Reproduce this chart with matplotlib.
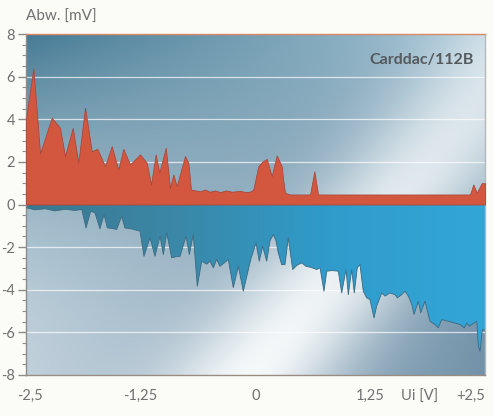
import numpy as np
import matplotlib
matplotlib.use("Agg")
import matplotlib.pyplot as plt
import matplotlib.transforms as mtransforms
from matplotlib.colors import to_rgb, LinearSegmentedColormap
from matplotlib.ticker import MultipleLocator

# Linearity deviation of the converter, positive and negative branches
ui_pos = [-2.500, -2.420, -2.347, -2.220, -2.130, -2.075, -1.991, -1.930, -1.857,
          -1.784, -1.723, -1.639, -1.566, -1.495, -1.440, -1.367, -1.258, -1.185,
          -1.138, -1.087, -1.048, -0.978, -0.931, -0.895, -0.858, -0.768, -0.732,
          -0.703, -0.605, -0.550, -0.496, -0.441, -0.387, -0.321, -0.256, -0.169,
          -0.103, -0.060, -0.024, 0.031, 0.071, 0.122, 0.176, 0.231, 0.285, 0.300,
          0.321, 0.376, 0.594, 0.641, 0.681, 2.337, 2.373, 2.410, 2.464, 2.500]
dev_pos = [4.0, 6.4, 2.4, 4.07, 3.6, 2.27, 3.6, 1.96, 4.54,
           2.5, 2.61, 1.8, 2.74, 1.64, 2.61, 1.88, 2.35, 1.96,
           0.94, 2.35, 1.49, 2.66, 0.78, 1.41, 0.86, 2.27, 1.96,
           0.7, 0.62, 0.7, 0.6, 0.66, 0.58, 0.66, 0.6, 0.64,
           0.58, 0.6, 0.7, 1.8, 2.0, 2.14, 1.33, 2.3, 1.8, 1.2,
           0.55, 0.47, 0.47, 1.56, 0.47, 0.47, 0.94, 0.55, 1.0, 1.0]

ui_neg = [-2.500, -2.402, -2.293, -2.184, -2.075, -1.966, -1.893, -1.846, -1.795,
          -1.748, -1.694, -1.650, -1.614, -1.563, -1.512, -1.458, -1.422, -1.345,
          -1.258, -1.215, -1.149, -1.095, -1.040, -1.004, -0.967, -0.913, -0.866,
          -0.822, -0.757, -0.721, -0.678, -0.634, -0.586, -0.532, -0.496, -0.460,
          -0.423, -0.387, -0.343, -0.296, -0.242, -0.187, -0.133, -0.052, 0.005,
          0.041, 0.078, 0.122, 0.158, 0.194, 0.223, 0.248, 0.285, 0.321, 0.357,
          0.405, 0.452, 0.503, 0.550, 0.605, 0.667, 0.703, 0.746, 0.776, 0.833,
          0.902, 0.939, 0.986, 1.011, 1.048, 1.076, 1.109, 1.138, 1.174, 1.211,
          1.247, 1.291, 1.320, 1.375, 1.411, 1.465, 1.520, 1.545, 1.593, 1.629,
          1.665, 1.702, 1.727, 1.773, 1.800, 1.846, 1.901, 1.955, 1.991, 2.028,
          2.137, 2.228, 2.275, 2.301, 2.329, 2.410, 2.428, 2.446, 2.471, 2.500]
dev_neg = [-0.15, -0.25, -0.2, -0.3, -0.22, -0.28, -0.23, -1.1, -0.31,
           -0.4, -1.14, -0.47, -1.1, -1.12, -1.17, -0.55, -1.1, -1.15,
           -1.25, -2.43, -1.56, -2.43, -1.49, -2.35, -1.33, -2.5, -2.45,
           -2.43, -1.49, -2.35, -1.41, -3.83, -2.66, -2.8, -2.66, -2.97,
           -2.58, -2.9, -2.75, -2.58, -3.9, -2.9, -4.07, -2.58, -1.8,
           -2.66, -1.96, -2.66, -1.7, -1.41, -1.7, -2.27, -2.82, -2.82, -1.56,
           -3.05, -2.85, -2.74, -2.9, -2.95, -3.05, -2.97, -4.07, -3.13, -3.1,
           -3.13, -4.15, -3.05, -4.23, -3.05, -4.15, -2.97, -2.82, -4.07, -4.38,
           -4.46, -5.32, -4.77, -4.15, -4.3, -4.15, -4.23, -4.38, -4.23, -4.07,
           -4.3, -4.69, -5.16, -4.54, -5.08, -4.54, -5.48, -5.63, -5.79, -5.4,
           -5.52, -5.63, -5.79, -5.56, -5.71, -5.48, -6.65, -6.89, -5.87, -5.9]

x_ticks = [-2.5, -1.25, 0, 1.25, 2.5]
x_ticklabels = ["-2,5", "-1,25", "0", "1,25", "+2,5"]
y_ticks = [-8, -6, -4, -2, 0, 2, 4, 6, 8]
y_ticklabels = ["-8", "-6", "-4", "-2", "0", "2", "4", "6", "8"]
title = "Carddac/112B"
y_title = "Abw. [mV]"
x_title = "Ui [V]"

plt.rcParams["font.family"] = ["Lato", "DejaVu Sans"]
W, H = 494, 416
fig = plt.figure(figsize=(W / 100, H / 100), dpi=100, facecolor="#fbfbf8")
ax = fig.add_axes([26 / W, 41 / H, 459 / W, 341 / H])
XMIN, XMAX, YMIN, YMAX = -2.5, 2.5, -8, 8
ax.set_xlim(XMIN, XMAX)
ax.set_ylim(YMIN, YMAX)

# --- backdrop: steel-blue field crossed by a bright diagonal band ---
nx, ny = 460, 342
u = np.linspace(0, 1, nx)[None, :]
v = np.linspace(1, 0, ny)[:, None]          # row 0 = top
pxg = u * 459.0
pyg = (1 - v) * 341.0
# signed distance from the band axis (pixel units, normalised by height)
s = ((pxg - 224.0) * -0.770 + (pyg - 341.0) * -0.639) / 341.0
ul, ur = np.array(to_rgb("#467b95")), np.array(to_rgb("#a8c6d6"))
ll, lr = np.array(to_rgb("#c0d0db")), np.array(to_rgb("#7393aa"))
vv = (v ** 1.8)[..., None]
uu = u[..., None]
base = (1 - vv) * ((1 - uu) * ll + uu * lr) + vv * ((1 - uu) * ul + uu * ur)
w = (np.exp(-(s / 0.2) ** 2) * (1 - 0.35 * v))[..., None]
white = np.array(to_rgb("#f6f9fa"))
bg = base * (1 - w) + white * w
ax.imshow(bg, extent=(XMIN, XMAX, YMIN, YMAX), aspect="auto", zorder=0,
          interpolation="bilinear")

# white guide lines
for yv in [-6, -4, -2, 2, 4, 6]:
    ax.axhline(yv, color="white", lw=0.9, alpha=0.7, zorder=1)

# negative branch with a horizontal blue gradient
neg = ax.fill_between(ui_neg, 0, dev_neg, facecolor="none", edgecolor="none",
                      zorder=2)
blue_cmap = LinearSegmentedColormap.from_list(
    "blues", ["#3b7790", "#3a88a8", "#2f9ccc", "#33a6d8"])
grad = np.linspace(0, 1, 256)[None, :]
gim = ax.imshow(grad, cmap=blue_cmap, extent=(XMIN, XMAX, YMIN, YMAX),
                aspect="auto", zorder=2, interpolation="bilinear")
gim.set_clip_path(neg.get_paths()[0], transform=ax.transData)
ax.plot(ui_neg, dev_neg, color="#3a6a80", lw=0.6, zorder=3)

# positive branch
ax.fill_between(ui_pos, 0, dev_pos, facecolor="#d3573f", edgecolor="#a9483a",
                lw=0.6, zorder=4)

# axes styling
for side, col in [("top", "#d98a62"), ("bottom", "#9a8c80"),
                  ("left", "#8c8c8c"), ("right", "#b4b8ba")]:
    ax.spines[side].set_color(col)
    ax.spines[side].set_linewidth(1.0)
ax.set_yticks(y_ticks)
ax.set_yticklabels(y_ticklabels)
ax.yaxis.set_minor_locator(MultipleLocator(0.5))
ax.tick_params(axis="y", which="major", length=6, width=1, color="#8c8c8c",
               labelsize=10.5, labelcolor="#707070", pad=2)
ax.tick_params(axis="y", which="minor", length=3, width=0.8, color="#8c8c8c")
ax.set_xticks(x_ticks)
ax.set_xticklabels(x_ticklabels)
ax.tick_params(axis="x", length=0, labelsize=10.5, labelcolor="#707070", pad=10)
xl = ax.get_xticklabels()
xl[-1].set_horizontalalignment("right")
xl[0].set_transform(xl[0].get_transform() +
                    mtransforms.ScaledTranslation(4 / 100, 0, fig.dpi_scale_trans))

fig.text(420 / W, 1 - 397 / H, x_title, ha="center", va="center",
         fontsize=10.5, color="#707070")
fig.text(26 / W, 1 - 17 / H, y_title, ha="left", va="center", fontsize=11,
         color="#707070")
ax.text(0.975, 0.925, title, transform=ax.transAxes, ha="right", va="center",
        fontsize=11.5, fontweight="bold", color="#555a5e")

fig.savefig("out.png", dpi=100, facecolor=fig.get_facecolor())
